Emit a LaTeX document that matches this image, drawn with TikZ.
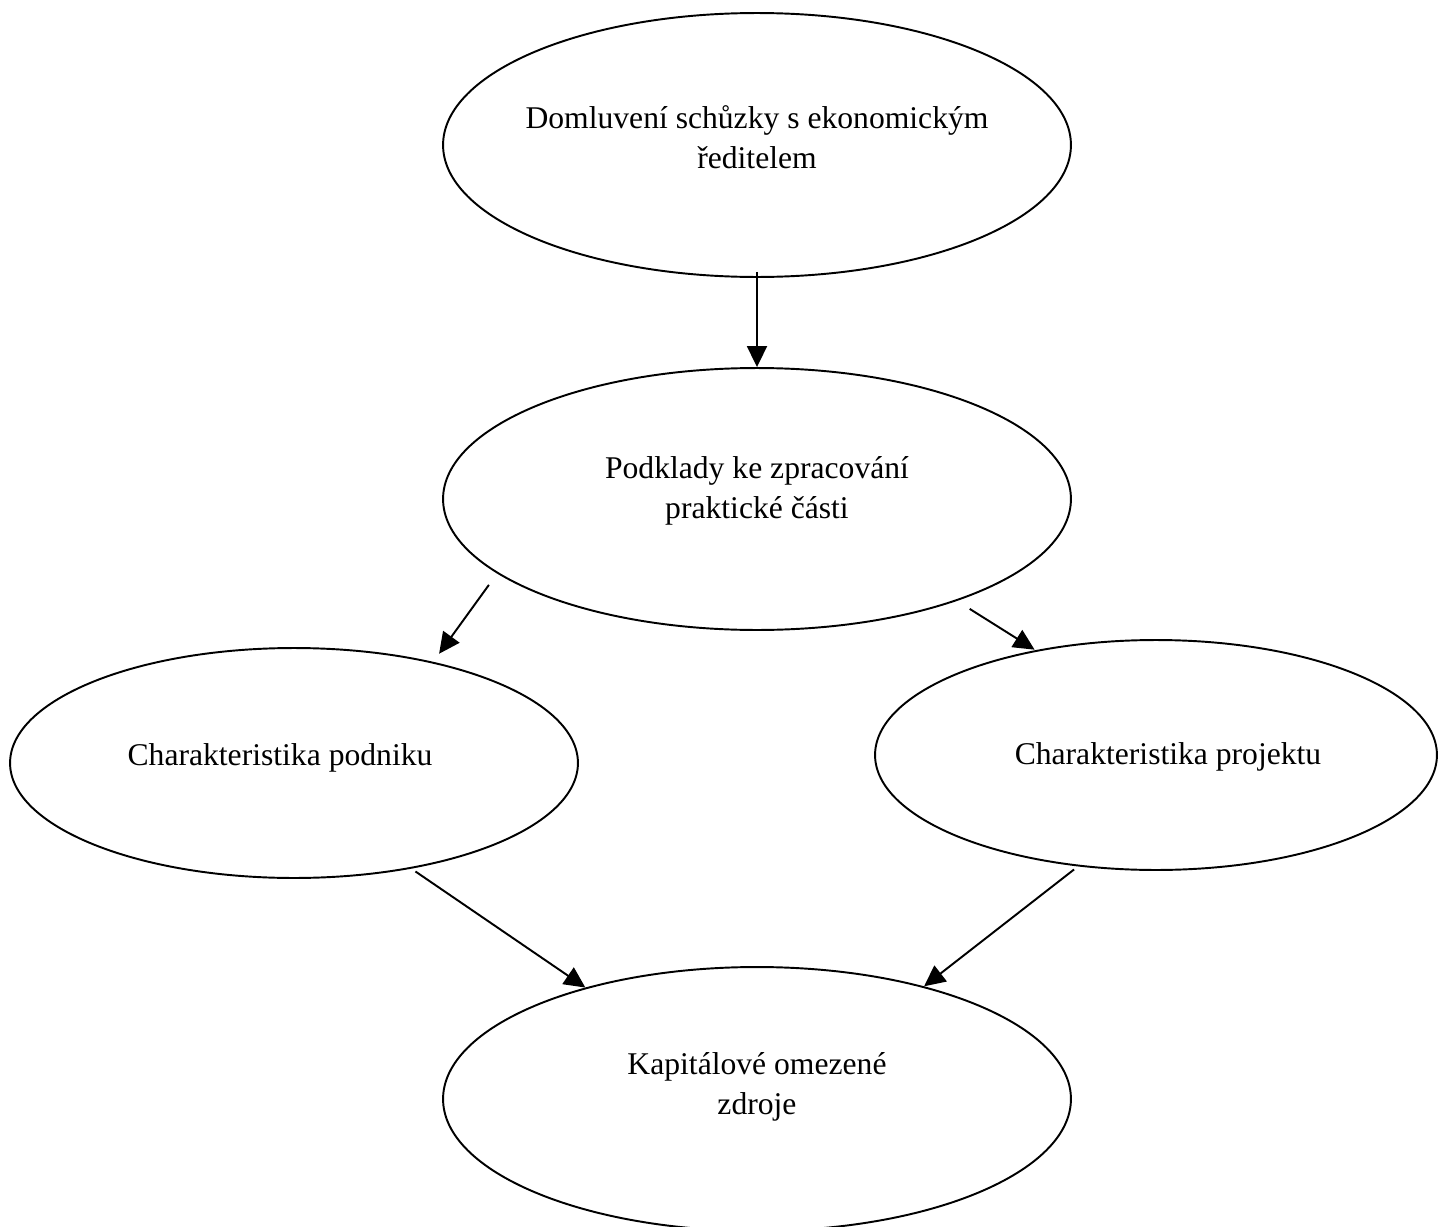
\documentclass[tikz,border=0pt]{standalone}
\usepackage{fontspec}
\setmainfont{Liberation Serif}
\usetikzlibrary{calc, positioning, shapes.geometric, arrows.meta}

\begin{document}
\begin{tikzpicture}[
  x=0.02cm, y=-0.02cm,
  bubble/.style={ellipse, draw=black, line width=1.1pt, inner sep=0pt,
              minimum width=12.56cm, minimum height=5.28cm},
  lbl/.style={align=center, font=\fontsize{18}{22.5}\selectfont, inner sep=0pt},
  arr/.style={-{Triangle[length=0.42cm, width=0.4cm]}, line width=1.1pt},
]
\useasboundingbox (0,0) rectangle (1438,1227);

\node[bubble] (meet) at (757,145) {};
\node[lbl] (meettxt) at (757,137) {Domluvení schůzky s ekonomickým\\ředitelem};

\node[bubble, minimum height=5.24cm] (data) at (757,499) {};
\node[lbl] (datatxt) at (757,491) {Podklady ke zpracování\\praktické části};

\node[bubble, minimum width=11.36cm, minimum height=4.6cm] (firm) at (294,763) {};
\node[lbl] (firmtxt) at (280,758) {Charakteristika podniku};

\node[bubble, minimum width=11.24cm, minimum height=4.6cm] (proj) at (1156,755) {};
\node[lbl] (projtxt) at (1168,757) {Charakteristika projektu};

\node[bubble] (limit) at (757,1099) {};
\node[lbl] (limittxt) at (757,1087) {Kapitálové omezené\\zdroje};

\draw[arr, shorten <=-0.12cm] (meet.south) -- (data.north);
\draw[arr, shorten <=0.28cm, shorten >=0.2cm] (data.196) -- (firm.36);
\draw[arr, shorten <=0.3cm, shorten >=0.02cm] (data.333) -- (proj.139);
\draw[arr, shorten <=0.1cm] (firm.318) -- (limit.147);
\draw[arr, shorten <=0.1cm] (proj.235) -- (limit.34);
\end{tikzpicture}
\end{document}
